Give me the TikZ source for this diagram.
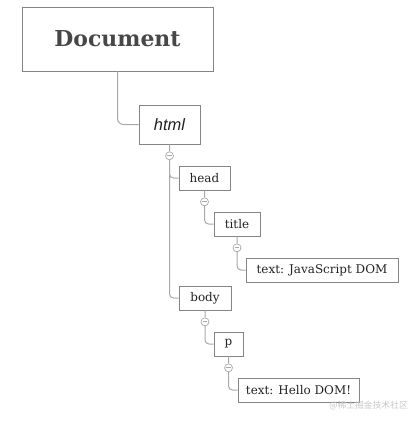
\documentclass[tikz,border=0pt]{standalone}
\usepackage{fontspec}
\setmainfont{DejaVu Serif}
\newfontfamily\htmlfont{Liberation Sans}
\newfontfamily\cjk{Noto Sans CJK SC}
\usetikzlibrary{positioning}

\definecolor{boxgray}{HTML}{858585}
\definecolor{linegray}{HTML}{A8A8A8}
\definecolor{inkgray}{HTML}{222222}

\tikzset{
  elem/.style={draw=boxgray, line width=0.9bp, text=inkgray, inner sep=0pt,
    minimum height=24bp, font=\fontsize{12}{14}\selectfont},
  toggle/.style={circle, draw=linegray, line width=0.7bp, fill=white,
    minimum size=8bp, inner sep=0pt,
    path picture={\draw[linegray, line width=0.7bp]
      ([xshift=-2.3bp]path picture bounding box.center) --
      ([xshift=2.3bp]path picture bounding box.center);}},
  link/.style={draw=linegray, line width=1bp, rounded corners=4bp},
}

\begin{document}
\begin{tikzpicture}[x=1bp, y=-1bp, on grid]
  \useasboundingbox (0,0) rectangle (420,421);

  \node[elem, minimum width=191bp, minimum height=64bp, text=black!72,
    font=\bfseries\fontsize{22}{26}\selectfont] (doc) at (117.5,39) {Document};
  \node[elem, minimum width=61bp, minimum height=39bp,
    font=\htmlfont\itshape\fontsize{16.5}{19}\selectfont] (html)
    [below right=85.5bp and 52bp of doc] {html};

  \node[elem, minimum width=51bp] (head) [below right=53.5bp and 35bp of html] {head};
  \node[elem, minimum width=46bp] (title) [below right=46bp and 32.5bp of head] {title};
  \node[elem, minimum width=152bp] (jsdom) [below right=46bp and 85bp of title] {text: JavaScript DOM};

  \node[elem, minimum width=52bp] (body) [below right=120bp and 0.5bp of head] {body};
  \node[elem, minimum width=29bp] (p) [below right=46bp and 23.5bp of body] {p};
  \node[elem, minimum width=121bp] (hello) [below right=46bp and 70bp of p] {text: Hello DOM!};

  % collapse toggles
  \node[toggle] (t-html) [below=7bp of html.south] {};
  \node[toggle] (t-head) [below=7bp of head.south] {};
  \node[toggle] (t-title) [below=7bp of title.south] {};
  \node[toggle] (t-body) [below=7bp of body.south] {};
  \node[toggle] (t-p) [below=7bp of p.south] {};

  \path[link, rounded corners=6bp] (doc.south) |- (html.west);
  \path[link]
    (html.south) -- (t-html.north)
    (t-html.south) |- (head.west)
    (t-html.south) |- (body.west)
    (head.south) -- (t-head.north)
    (t-head.south) |- (title.west)
    (title.south) -- (t-title.north)
    (t-title.south) |- (jsdom.west)
    (body.south) -- (t-body.north)
    (t-body.south) |- (p.west)
    (p.south) -- (t-p.north)
    (t-p.south) |- (hello.west);

  \node[anchor=east, text=black!22, inner sep=0pt,
    font=\cjk\fontsize{8.8}{10}\selectfont] (mark) at (408,406) {@稀土掘金技术社区};
\end{tikzpicture}
\end{document}
